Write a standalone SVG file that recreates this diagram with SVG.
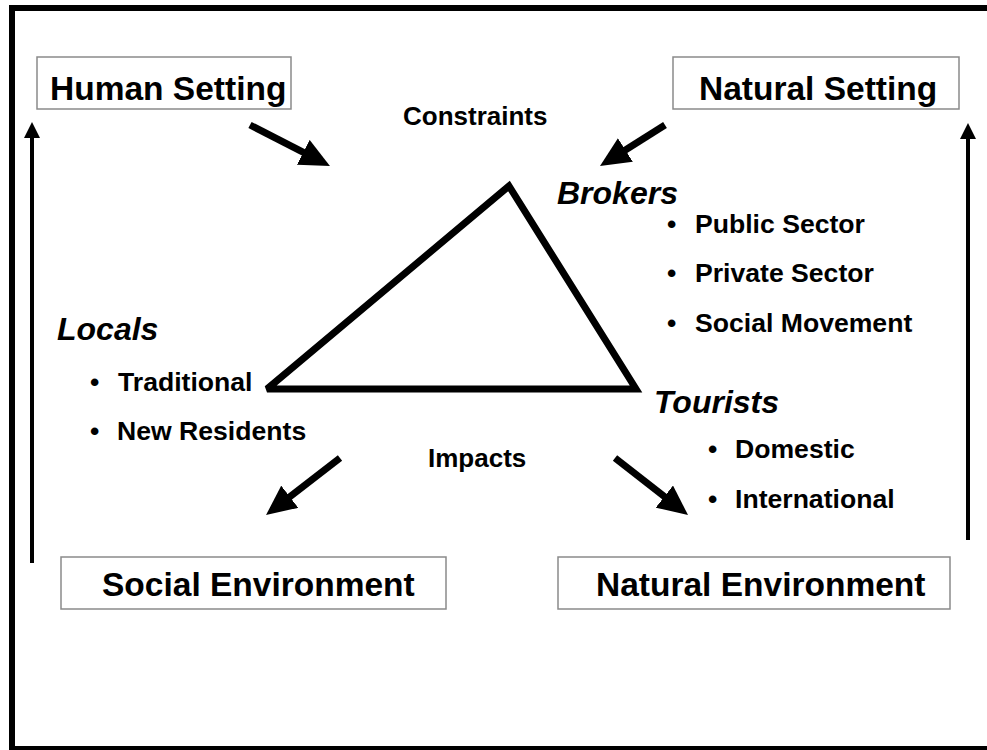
<svg xmlns="http://www.w3.org/2000/svg" width="987" height="750" viewBox="0 0 987 750">
<style>
text{font-family:"Liberation Sans",Arial,sans-serif;fill:#000;font-weight:bold}
.box{fill:#fff;stroke:#8a8a8a;stroke-width:1.5}
.big{font-size:33.5px}
.mid{font-size:26px}
.li{font-size:26.6px}
.it{font-size:32px;font-style:italic}
.thick{stroke:#000;stroke-width:7;fill:none}
.thin{stroke:#000;stroke-width:4;fill:none}
</style>
<defs>
<marker id="hd" markerUnits="userSpaceOnUse" viewBox="0 0 30 28" markerWidth="30" markerHeight="28" refX="15" refY="14" orient="auto"><path d="M0,0 L30,14 L0,28 z" fill="#000"/></marker>
<marker id="hs" markerUnits="userSpaceOnUse" viewBox="0 0 16 16" markerWidth="16" markerHeight="16" refX="8" refY="8" orient="auto"><path d="M0,0 L16,8 L0,16 z" fill="#000"/></marker>
</defs>
<rect x="0" y="0" width="987" height="750" fill="#fff"/>
<rect x="12" y="8" width="1000" height="741" fill="none" stroke="#000" stroke-width="6"/>

<g id="connectors">
<line class="thick" x1="250" y1="125" x2="316.6" y2="159.2" marker-end="url(#hd)"/>
<line class="thick" x1="665" y1="125" x2="612.7" y2="158" marker-end="url(#hd)"/>
<line class="thick" x1="340" y1="458" x2="277.9" y2="505.9" marker-end="url(#hd)"/>
<line class="thick" x1="615" y1="458" x2="676.2" y2="505.8" marker-end="url(#hd)"/>
<line class="thin" x1="32" y1="563" x2="32" y2="130" marker-end="url(#hs)"/>
<line class="thin" x1="968" y1="540" x2="968" y2="131" marker-end="url(#hs)"/>
</g>

<g id="triangle">
<polygon class="thick" points="509,186 267,389 636,389" stroke-linejoin="miter" stroke-miterlimit="2.2"/>
</g>

<g id="human-setting">
<rect class="box" x="37" y="57" width="254" height="52"/>
<text class="big" x="50" y="100">Human Setting</text>
</g>
<g id="natural-setting">
<rect class="box" x="673" y="57" width="286" height="52"/>
<text class="big" x="699" y="100">Natural Setting</text>
</g>
<g id="constraints">
<text class="mid" x="403" y="125">Constraints</text>
</g>
<g id="brokers">
<text class="it" x="557" y="204">Brokers</text>
<text class="li" x="667" y="233">•</text><text class="li" x="695" y="233">Public Sector</text>
<text class="li" x="667" y="282">•</text><text class="li" x="695" y="282">Private Sector</text>
<text class="li" x="667" y="332">•</text><text class="li" x="695" y="332">Social Movement</text>
</g>
<g id="locals">
<text class="it" x="57" y="340">Locals</text>
<text class="li" x="90" y="391">•</text><text class="li" x="118" y="391">Traditional</text>
<text class="li" x="90" y="440">•</text><text class="li" x="117" y="440">New Residents</text>
</g>
<g id="tourists">
<text class="it" x="654" y="413">Tourists</text>
<text class="li" x="708" y="458">•</text><text class="li" x="735" y="458">Domestic</text>
<text class="li" x="708" y="508">•</text><text class="li" x="735" y="508">International</text>
</g>
<g id="impacts">
<text class="mid" x="428" y="467">Impacts</text>
</g>
<g id="social-environment">
<rect class="box" x="61" y="557" width="385" height="52"/>
<text class="big" x="102" y="596">Social Environment</text>
</g>
<g id="natural-environment">
<rect class="box" x="558" y="557" width="392" height="52"/>
<text class="big" x="596" y="596">Natural Environment</text>
</g>
</svg>
